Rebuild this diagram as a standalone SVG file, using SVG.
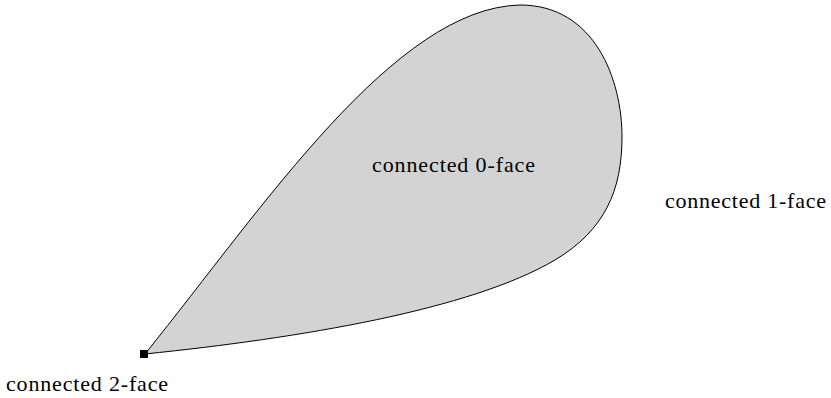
<svg xmlns="http://www.w3.org/2000/svg" width="831" height="398" viewBox="0 0 831 398">
<style>
text{font-family:"Liberation Serif","DejaVu Serif",serif;font-size:22px;fill:#000}
</style>
<rect width="831" height="398" fill="#fff"/>
<g id="face0">
<path d="M145,354 C265,205 395,8 520,5 C595,5 622,80 622,137 C622,190 605,230 555,260 C470,310 300,338 145,354 Z" fill="#d3d3d3" stroke="#000" stroke-width="1"/>
<text x="372" y="172" textLength="163" lengthAdjust="spacing">connected 0-face</text>
</g>
<g id="face1">
<text x="665" y="208" textLength="161" lengthAdjust="spacing">connected 1-face</text>
</g>
<g id="face2">
<rect x="140" y="350" width="8" height="8" fill="#000"/>
<text x="6" y="391" textLength="162" lengthAdjust="spacing">connected 2-face</text>
</g>
</svg>
